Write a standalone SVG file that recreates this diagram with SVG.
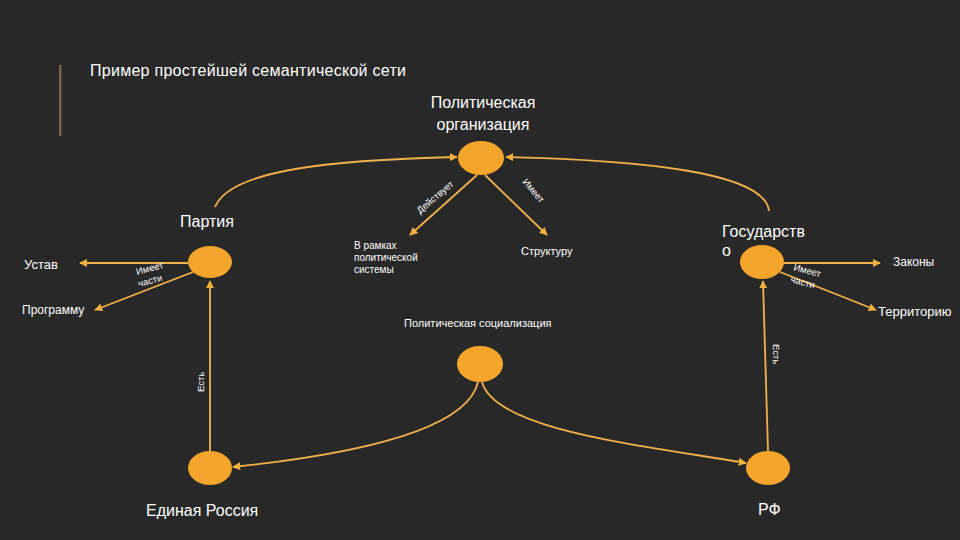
<svg xmlns="http://www.w3.org/2000/svg" width="960" height="540" viewBox="0 0 960 540">
<defs>
<marker id="ah" viewBox="0 0 10 10" refX="9" refY="5" markerWidth="4.5" markerHeight="4.5" orient="auto-start-reverse" markerUnits="strokeWidth">
<path d="M0,0 L10,5 L0,10 z" fill="#F3B03F"/>
</marker>
<style>
.bg{fill:#282828}
.node{fill:#F4A52C}
.c{fill:none;stroke:#F1B24E;stroke-width:1.8;marker-end:url(#ah)}
text{font-family:"Liberation Sans","Open Sans",sans-serif;fill:#ffffff}
.t16{font-size:16px}
.t13{font-size:13px}
.t12{font-size:12px}
.t11{font-size:11px}
.t10{font-size:10px}
.lab{font-size:9.5px}
</style>
</defs>
<rect class="bg" x="0" y="0" width="960" height="540"/>
<rect x="59" y="65" width="2.5" height="71" fill="#7E5E4C"/>
<text x="90" y="76" font-size="16" textLength="316">Пример простейшей семантической сети</text>

<g id="connectors">
<path class="c" d="M215,207 C230,170 330,160 457,157"/>
<path class="c" d="M769,211 C765,172 640,160 506,157"/>
<path class="c" d="M477,175 L410,235"/>
<path class="c" d="M485,175 L547,235"/>
<path class="c" d="M188,263 L80,263"/>
<path class="c" d="M193,272 L95,310"/>
<path class="c" d="M784,263 L880,263"/>
<path class="c" d="M780,272 L876,310"/>
<path class="c" d="M210,451 L210,281"/>
<path class="c" d="M768,451 L763,281"/>
<path class="c" d="M478,382 C465,440 300,460 233,467"/>
<path class="c" d="M482,382 C495,430 640,445 746,463"/>
<text class="lab" transform="translate(420,214) rotate(-40)">Действует</text>
<text class="lab" transform="translate(522,182) rotate(50)">Имеет</text>
<text class="lab" transform="translate(137,275) rotate(-15)">Имеет</text>
<text class="lab" transform="translate(139,287) rotate(-15)">части</text>
<text class="lab" transform="translate(793,270) rotate(15)">Имеет</text>
<text class="lab" transform="translate(790,282) rotate(15)">части</text>
<text class="lab" transform="translate(204,392) rotate(-90)">Есть</text>
<text class="lab" transform="translate(773,344) rotate(90)">Есть</text>
</g>

<g id="n-org">
<ellipse class="node" cx="481" cy="158" rx="23" ry="17"/>
<text class="t16" x="483" y="108" text-anchor="middle">Политическая</text>
<text class="t16" x="483" y="130" text-anchor="middle">организация</text>
</g>
<g id="n-party">
<ellipse class="node" cx="210" cy="262" rx="22" ry="16"/>
<text class="t16" x="180" y="227">Партия</text>
</g>
<g id="n-state">
<ellipse class="node" cx="762" cy="262" rx="22" ry="17"/>
<text class="t16" x="722" y="237">Государств</text>
<text class="t16" x="722" y="256">о</text>
</g>
<g id="n-social">
<ellipse class="node" cx="480" cy="364" rx="23" ry="18"/>
<text class="t11" x="404" y="327">Политическая социализация</text>
</g>
<g id="n-er">
<ellipse class="node" cx="210" cy="468" rx="22" ry="17"/>
<text class="t16" x="146" y="516">Единая Россия</text>
</g>
<g id="n-rf">
<ellipse class="node" cx="768" cy="468" rx="22" ry="17"/>
<text class="t16" x="758" y="515">РФ</text>
</g>
<g id="n-ustav"><text class="t13" x="24" y="269">Устав</text></g>
<g id="n-prog"><text class="t12" x="22" y="314">Программу</text></g>
<g id="n-system">
<text class="t10" x="354" y="249">В рамках</text>
<text class="t10" x="354" y="261">политической</text>
<text class="t10" x="354" y="273">системы</text>
</g>
<g id="n-struct"><text class="t11" x="521" y="255">Структуру</text></g>
<g id="n-laws"><text class="t12" x="893" y="266">Законы</text></g>
<g id="n-terr"><text class="t13" x="878" y="316">Территорию</text></g>
</svg>
